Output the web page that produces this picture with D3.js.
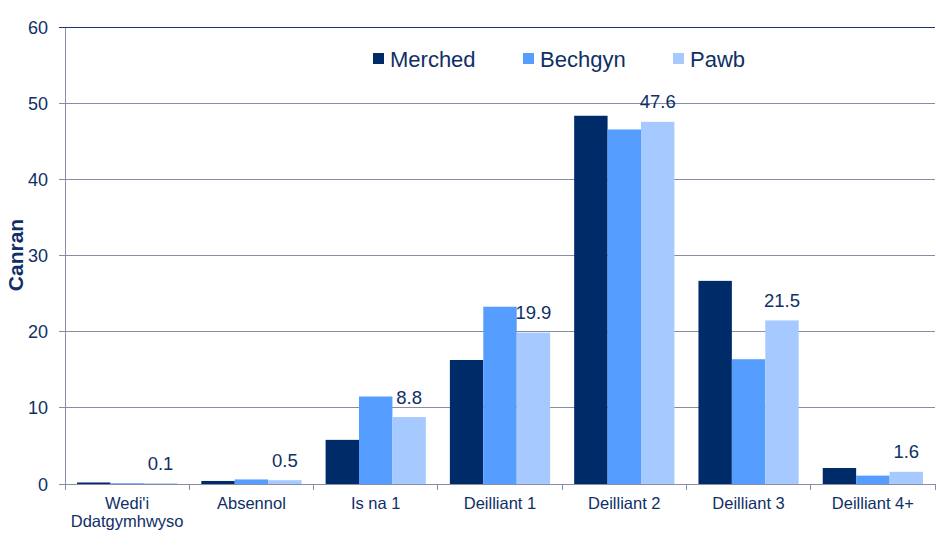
<!DOCTYPE html>
<html><head><meta charset="utf-8">
<script src="https://cdn.jsdelivr.net/npm/d3@7/dist/d3.min.js"></script>
<style>body{margin:0;background:#fff;}svg{display:block;font-family:"Liberation Sans",Arial,sans-serif;}</style>
</head><body><svg id="c" width="936" height="557"></svg>
<script>
const categories = [["Wedi'i","Ddatgymhwyso"],["Absennol"],["Is na 1"],["Deilliant 1"],["Deilliant 2"],["Deilliant 3"],["Deilliant 4+"]];
const seriesNames = ["Merched","Bechgyn","Pawb"];
const merched = [0.2, 0.4, 5.8, 16.3, 48.4, 26.7, 2.1];
const bechgyn = [0.1, 0.6, 11.5, 23.3, 46.6, 16.4, 1.1];
const pawb = [0.1, 0.5, 8.8, 19.9, 47.6, 21.5, 1.6];
const yTicks = [0,10,20,30,40,50,60];
const colors = ["#002b69","#559eff","#a6caff"];
const textColor = "#0f2f66";

(function(){
const svg = d3.select("#c");
const mLeft = 65, mRight = 935, mTop = 27.5, mBottom = 484;
const x = d3.scaleBand().domain(d3.range(categories.length)).range([mLeft, mRight]).padding(0);
const y = d3.scaleLinear().domain([0,60]).range([mBottom, mTop]);
const inner = d3.scaleBand().domain(d3.range(3)).range([0, x.bandwidth()]).paddingInner(0).paddingOuter(0.36);
const series = [merched, bechgyn, pawb];

svg.append("g").selectAll("line").data(yTicks).join("line")
  .attr("x1", mLeft-6).attr("x2", mRight).attr("y1", d=>y(d)).attr("y2", d=>y(d))
  .attr("stroke", d=> d===60 ? "#1c3570" : "#8a8ca3").attr("stroke-width",1).attr("shape-rendering","crispEdges");
svg.append("line").attr("x1",mLeft).attr("x2",mLeft).attr("y1",mTop).attr("y2",mBottom+6)
  .attr("stroke","#8a8ca3").attr("shape-rendering","crispEdges");
svg.append("g").selectAll("text").data(yTicks).join("text")
  .attr("x", 48).attr("y", d=>y(d)+6.5).attr("text-anchor","end")
  .attr("font-size",18).attr("fill",textColor).text(d=>d);
svg.append("text").attr("transform","translate(23,255) rotate(-90)").attr("text-anchor","middle")
  .attr("font-size",21).attr("font-weight","bold").attr("fill",textColor).text("Canran");

svg.append("g").selectAll("line").data(d3.range(categories.length+1)).join("line")
  .attr("x1", d=> mLeft + d*x.step()).attr("x2", d=> mLeft + d*x.step())
  .attr("y1", mBottom).attr("y2", mBottom+6).attr("stroke","#8a8ca3").attr("shape-rendering","crispEdges");

series.forEach((s, si) => {
  svg.append("g").selectAll("rect").data(s).join("rect")
    .attr("x", (d,i)=> x(i) + inner(si)).attr("width", inner.bandwidth())
    .attr("y", d=> y(d)).attr("height", d=> mBottom - y(d)).attr("fill", colors[si]);
});
svg.append("line").attr("x1",mLeft).attr("x2",mRight).attr("y1",mBottom).attr("y2",mBottom)
  .attr("stroke","#8a8ca3").attr("shape-rendering","crispEdges");

svg.append("g").selectAll("text").data(pawb).join("text")
  .attr("x",(d,i)=> x(i) + inner(2) + inner.bandwidth()/2)
  .attr("y", d=> y(d) - 13.5).attr("text-anchor","middle")
  .attr("font-size",18.5).attr("fill",textColor).text(d=>d);

categories.forEach((c,i)=>{
  const t = svg.append("text").attr("x", x(i)+x.bandwidth()/2).attr("y",508.5)
    .attr("text-anchor","middle").attr("font-size",16.5).attr("fill",textColor);
  c.forEach((line,li)=> t.append("tspan").attr("x", x(i)+x.bandwidth()/2).attr("dy", li===0?0:18.5).text(line));
});

const legX = [373, 523, 673];
seriesNames.forEach((n,i)=>{
  svg.append("rect").attr("x",legX[i]).attr("y",53).attr("width",11).attr("height",11).attr("fill",colors[i]);
  svg.append("text").attr("x",legX[i]+17).attr("y",66.5).attr("font-size",22).attr("fill",textColor).text(n);
});
})();
</script></body></html>
